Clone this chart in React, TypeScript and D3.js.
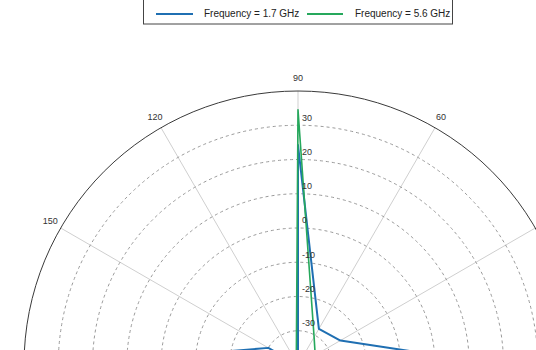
import * as d3 from "d3";

// angles in degrees, gain in dB
const angles = [0, 30, 60, 90, 120, 150, 180];
const gain17 = [19.6, -25.7, -27.8, 24.2, -40, -30, 28];
const gain56 = [-36, -34.2, -30.6, 34.5, -39, -40, -40];

const ringTicks = [30, 20, 10, 0, -10, -20, -30];
const spokeAngles = [0, 30, 60, 90, 120, 150, 180, 210, 240, 270, 300, 330];

const BLUE = "#1f6fb2";
const GREEN = "#26a85c";
const FONT = "'Liberation Sans', Arial, sans-serif";

const W = 536;
const H = 350;
const cx = 298;
const cy = 365;
const R = 274;

const rScale = d3.scaleLinear().domain([-40, 40]).range([0, R]);
const toRad = (deg: number) => (deg * Math.PI) / 180;

const line = d3
  .lineRadial<[number, number]>()
  .angle((d) => Math.PI / 2 - toRad(d[0]))
  .radius((d) => rScale(d[1]));

// label position for an angle tick, only keep ones that land inside the frame
const labelPos = (a: number) => ({
  x: (R + 12) * Math.cos(toRad(a)),
  y: -(R + 12) * Math.sin(toRad(a)),
});
const visibleAngleLabels = spokeAngles.filter((a) => {
  const p = labelPos(a);
  return cx + p.x > 12 && cx + p.x < W - 12 && cy + p.y > 8 && cy + p.y < H - 8;
});

const App = () => {
  const series = [
    { name: "Frequency = 1.7 GHz", color: BLUE, width: 2, values: gain17 },
    { name: "Frequency = 5.6 GHz", color: GREEN, width: 1.6, values: gain56 },
  ];

  return (
    <div style={{ position: "absolute", left: 0, top: 0 }}>
      <svg width={W} height={H} style={{ display: "block", background: "#fff" }}>
        <g transform={`translate(${cx},${cy})`}>
          {/* spokes */}
          {spokeAngles.map((a) => (
            <line
              key={"s" + a}
              x1={0}
              y1={0}
              x2={R * Math.cos(toRad(a))}
              y2={-R * Math.sin(toRad(a))}
              stroke="#cfcfcf"
              strokeWidth={1}
            />
          ))}
          {/* dashed rings */}
          {ringTicks.map((t) => (
            <circle
              key={"r" + t}
              r={rScale(t)}
              fill="none"
              stroke="#9a9a9a"
              strokeWidth={1}
              strokeDasharray="3,3"
            />
          ))}
          <circle r={R} fill="none" stroke="#3a3a3a" strokeWidth={1} />

          {/* angle labels */}
          {visibleAngleLabels.map((a) => {
            const p = labelPos(a);
            return (
              <text
                key={"al" + a}
                x={p.x}
                y={p.y}
                textAnchor="middle"
                dominantBaseline="middle"
                fontFamily={FONT}
                fontSize={9}
                fill="#333"
              >
                {a}
              </text>
            );
          })}

          {/* data */}
          {series.map((s) => (
            <path
              key={s.name}
              d={line(angles.map((a, i) => [a, s.values[i]] as [number, number])) || ""}
              fill="none"
              stroke={s.color}
              strokeWidth={s.width}
              strokeLinejoin="round"
            />
          ))}

          {/* ring labels */}
          {ringTicks.map((t) => (
            <text
              key={"rl" + t}
              x={4}
              y={-rScale(t) - 7}
              dominantBaseline="middle"
              fontFamily={FONT}
              fontSize={9}
              fill="#333"
            >
              {t}
            </text>
          ))}
        </g>

        {/* legend */}
        <g>
          <rect x={143.5} y={-5} width={309} height={29} fill="#fff" stroke="#444" strokeWidth={1} />
          <line x1={156} x2={193} y1={14} y2={14} stroke={BLUE} strokeWidth={2} />
          <text x={204} y={14} dominantBaseline="middle" fontFamily={FONT} fontSize={10} fill="#222">
            {series[0].name}
          </text>
          <line x1={307} x2={343} y1={14} y2={14} stroke={GREEN} strokeWidth={2} />
          <text x={355} y={14} dominantBaseline="middle" fontFamily={FONT} fontSize={10} fill="#222">
            {series[1].name}
          </text>
        </g>
      </svg>
    </div>
  );
};

export default App;
